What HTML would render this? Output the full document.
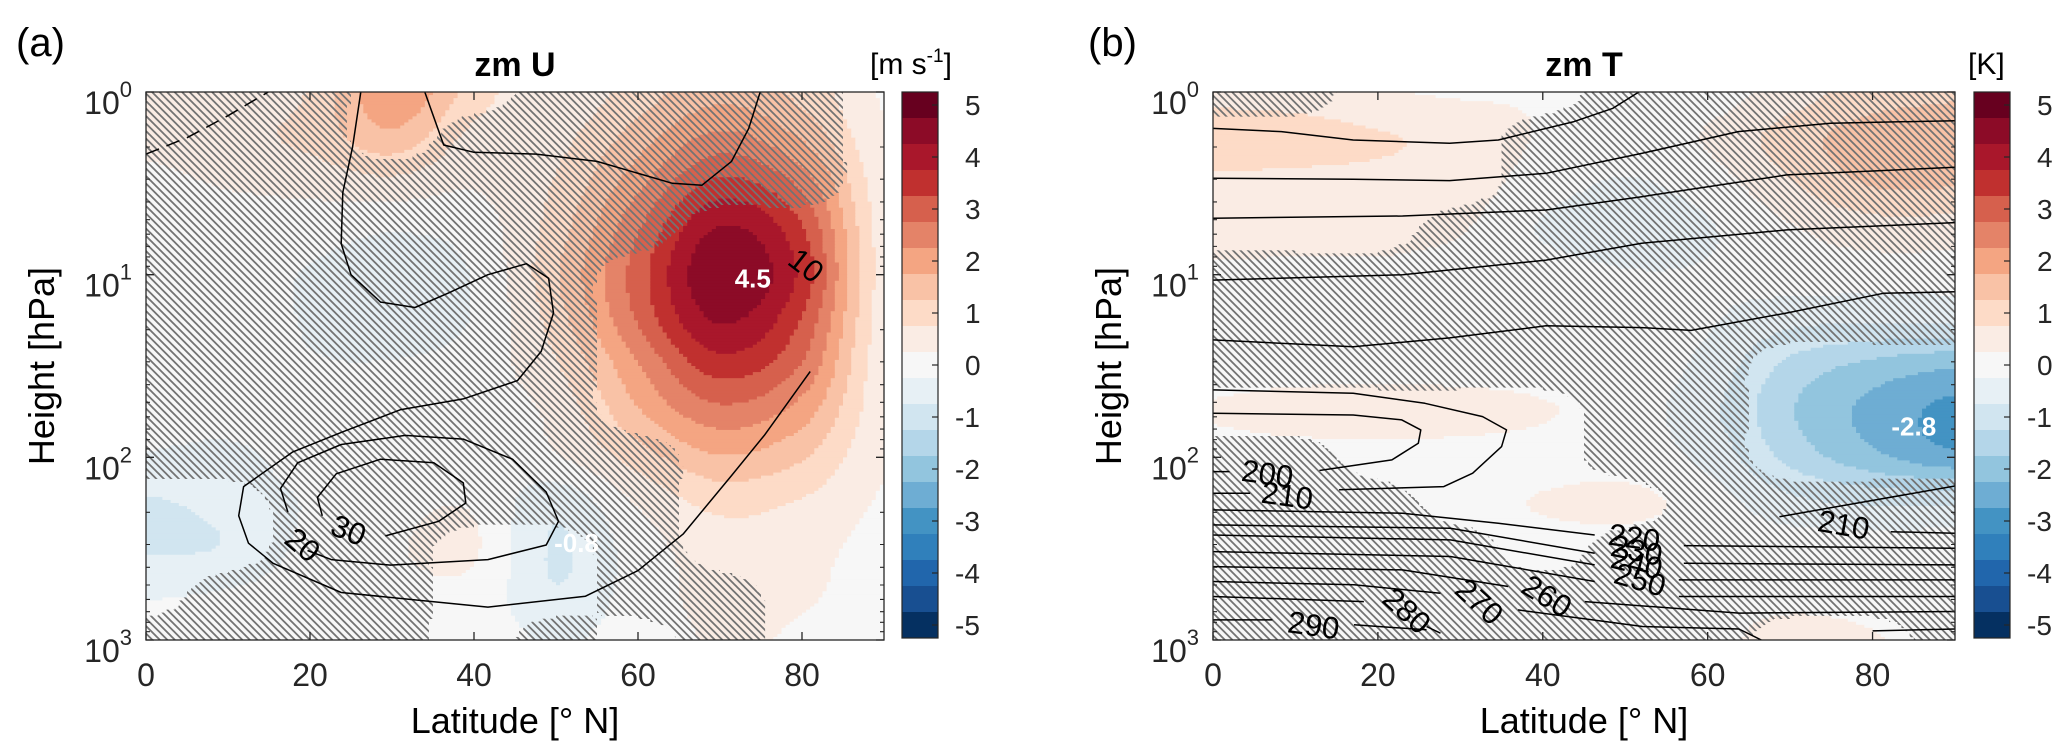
<!DOCTYPE html>
<html><head><meta charset="utf-8"><style>
html,body{margin:0;padding:0;background:#fff;}
svg{display:block;}
text{font-family:"Liberation Sans",Arial,sans-serif;}
</style></head><body>
<svg id="fig" xmlns="http://www.w3.org/2000/svg" width="2067" height="754" viewBox="0 0 2067 754">
<defs>
<pattern id="hatch" patternUnits="userSpaceOnUse" width="7.5" height="7.5">
<path d="M-1,-1 L8.5,8.5 M-1,6.5 L1,8.5 M6.5,-1 L8.5,1" stroke="#737373" stroke-width="1.8"/>
</pattern>
</defs>
<text x="16" y="56" font-size="40">(a)</text>
<text x="1088" y="56" font-size="40">(b)</text>
<text x="515" y="76" font-size="34" font-weight="bold" text-anchor="middle">zm U</text>
<text x="1584" y="76" font-size="34" font-weight="bold" text-anchor="middle">zm T</text>
<text x="870" y="74" font-size="30">[m s<tspan font-size="19" dy="-12">-1</tspan><tspan dy="12">]</tspan></text>
<text x="1968" y="74" font-size="30">[K]</text>
<text x="515" y="733" font-size="36" text-anchor="middle">Latitude [° N]</text>
<text x="1584" y="733" font-size="36" text-anchor="middle">Latitude [° N]</text>
<text x="0" y="0" font-size="36" text-anchor="middle" transform="translate(54,366) rotate(-90)">Height [hPa]</text>
<text x="0" y="0" font-size="36" text-anchor="middle" transform="translate(1121,366) rotate(-90)">Height [hPa]</text>
</svg>
<script>
// ---------- data ----------
const gridLats = [0,10,20,30,40,50,60,70,80,90];
const gridLogP = [0,0.25,0.5,0.75,1,1.25,1.5,1.75,2,2.25,2.5,2.75,3];
const latTicks = [0,20,40,60,80];
const pTickExps = [0,1,2,3];
const cbarTicks = [5,4,3,2,1,0,-1,-2,-3,-4,-5];
const cbarLevels = [5,4.5,4,3.5,3,2.5,2,1.5,1,0.5,0,-0.5,-1,-1.5,-2,-2.5,-3,-3.5,-4,-4.5,-5];
// zonal-mean U anomaly (rows: log10 p, cols: latitude)
const uAnom = [
[0.5,0.5,0.8,2.2,1.0,0.4,1.0,1.6,1.1,0.2],
[0.4,0.6,0.9,1.6,0.6,0.6,1.5,2.4,1.7,0.3],
[0.1,0.3,0.4,0.6,0.3,0.8,2.1,3.4,2.6,0.4],
[0,0,0,-0.2,0,1.0,2.7,4.3,3.3,0.5],
[0,0,-0.3,-0.6,-0.2,1.2,3.0,4.7,3.6,0.5],
[0,0,-0.3,-0.6,-0.2,1.0,2.8,4.3,3.2,0.5],
[0,0,-0.2,-0.2,0,0.7,2.2,3.5,2.7,0.4],
[0,0,0,0,0,0.4,1.7,2.6,2.0,0.4],
[-0.3,-0.4,0,0,0,0.2,1.0,1.7,1.3,0.3],
[-0.8,-0.6,-0.2,0.1,0.2,-0.6,0.3,0.9,0.7,0.2],
[-0.8,-0.7,-0.1,0.2,0.3,-0.8,0,0.5,0.4,0.1],
[-0.3,-0.2,0,0.1,0.1,-0.7,0,0.4,0.3,0.1],
[0,0,0,0,0,-0.3,0,0.3,0.2,0.1]];
const uHatch = [
[1,1,1,0,0,1,1,1,1,0],
[1,1,1,0,1,1,1,1,1,0],
[1,1,1,1,1,1,1,1,1,0],
[1,1,1,1,1,1,1,0,0,0],
[1,1,1,1,1,1,0,0,0,0],
[1,1,1,1,1,1,0,0,0,0],
[1,1,1,1,1,1,0,0,0,0],
[1,1,1,1,1,1,0,0,0,0],
[1,1,1,1,1,1,1,0,0,0],
[0,0,1,1,1,1,1,0,0,0],
[0,0,1,1,0,0,1,0,0,0],
[0,1,1,1,0,0,1,1,0,0],
[1,1,1,1,0,1,0,1,0,0]];
// zonal-mean T anomaly
const tAnom = [
[0.5,0.5,0.3,0.2,0.2,0,0,0.5,1.0,1.2],
[1.2,1.0,0.8,0.6,0.2,0,0.3,1.0,1.5,1.5],
[0.6,0.6,0.6,0.5,0,-0.3,0,0.7,1.3,1.3],
[0.6,0.5,0.5,0.3,-0.3,-0.6,-0.3,0.2,0.5,0.5],
[0.1,0.1,0.1,0,0,-0.2,-0.2,0,0,0],
[0,0,0,0,0,0,-0.2,-0.6,-0.7,-0.7],
[0,0,0,0,0,0,-0.4,-1.4,-1.9,-2.2],
[0.3,0.5,0.6,0.5,0.3,0,-0.6,-1.7,-2.4,-2.9],
[0,0,0,0,0,0,-0.4,-1.4,-2.1,-2.6],
[0,0,0,0,0.3,0.4,0,-0.6,-0.8,-0.8],
[0,0,0,0,0,0,0,0,0,0],
[0,0,0,0,0,0,0,0,0,0],
[0,0,0,0,0,0,0,0.6,0.3,0]];
const tHatch = [
[1,1,0,0,0,1,1,1,1,1],
[0,0,0,0,1,1,1,1,1,1],
[0,0,0,0,1,1,1,1,1,1],
[0,0,0,1,1,1,1,1,1,1],
[1,1,1,1,1,1,1,1,1,1],
[1,1,1,1,1,1,1,1,1,1],
[1,1,1,1,1,1,1,0,0,0],
[0,0,0,0,0,1,1,0,0,0],
[1,1,0,0,0,1,1,0,0,0],
[1,1,1,0,0,0,1,1,1,1],
[1,1,1,1,0,1,1,1,1,1],
[1,1,1,1,1,1,1,1,1,1],
[1,1,1,1,1,1,1,0,0,1]];
// climatological contour lines
const uLineLat = [
[26.2,25.2,24,23.8,25,28.6,32.8,36.9,41.7,46.4,49.1,49.7,48.2,45.3,38.7,31,24,17.9,11.9,11.3,12.5,15.5,23.8,41.7,53.6,60,65.5,71.4,75.4,81],
[34,36.3,40,47.6,55,64.2,67.8,71.4,73.5,74.9],
[0,5,10,14.9],
[19.7,22.6,29.8,41.7,48.8,50.3,48.8,44.7,38.7,31.6,23.8,18.5,16.4,17.3],
[29.2,35.7,39,38.7,35.1,28.6,23.2,20.9,21.5]];
const uLineLogP = [
[0,0.3,0.55,0.83,1.0,1.15,1.18,1.1,1.0,0.94,1.02,1.21,1.42,1.58,1.68,1.74,1.86,1.97,2.16,2.32,2.47,2.58,2.74,2.82,2.76,2.62,2.42,2.1,1.88,1.53],
[0,0.29,0.33,0.34,0.38,0.5,0.51,0.38,0.2,0],
[0.34,0.25,0.13,0],
[2.51,2.56,2.59,2.56,2.48,2.35,2.19,2.01,1.9,1.88,1.93,2.03,2.17,2.3],
[2.43,2.35,2.25,2.14,2.03,2.01,2.09,2.22,2.32]];
const uLineDash = [0,0,1,0,0];
const uLabelText = ["10","20","30"];
const uLabelLat = [80.5,19.1,24.7];
const uLabelLogP = [0.95,2.48,2.40];
const uLabelRot = [38,40,22];
const tLineLat = [
[52,48.5,43.8,34.6,28.7,17,8.3,0],
[0,17,28.7,40.4,52,63.7,74.9,90],
[0,23,40.4,52,69.6,90],
[0,23,40.4,52,69.6,90],
[0,17,28.7,40.4,52,58,69.6,81.3,90],
[0,4.5],
[15.3,28,31.5,35,35.6,32.7,25.7,17,0],
[0,2],
[12.9,21.7,24.9,25.2,22.9,17,0],
[0,23,34.6,46.3],[57.1,90],
[0,28.8,46.3],[57.1,90],
[0,28.8,46.3],[56.5,90],
[0,28.8,46.3],[56.5,90],
[0,23,35.8],[45.1,63.8,90],
[0,17.1,27.6],[37,52.1,63.8,66.5],
[0,18.3],[25.9,27.6],
[0,7.2],[17.1,25.9],
[90,68.7],[82.2,90],[80,90]];
const tLineLogP = [
[-0.01,0.089,0.162,0.263,0.281,0.263,0.217,0.199],
[0.472,0.478,0.485,0.445,0.336,0.217,0.171,0.157],
[0.691,0.679,0.646,0.573,0.454,0.412],
[1.03,1.0,0.92,0.828,0.755,0.715],
[1.357,1.395,1.346,1.28,1.29,1.305,1.21,1.102,1.093],
[2.197,2.197],
[2.178,2.16,2.087,1.941,1.85,1.777,1.704,1.649,1.631],
[2.078,2.078],
[2.072,2.014,1.923,1.85,1.795,1.768,1.759],
[2.288,2.306,2.361,2.425],[2.483,2.498],
[2.37,2.388,2.525],[2.58,2.589],
[2.425,2.452,2.589],[2.671,2.671],
[2.516,2.543,2.68],[2.762,2.762],
[2.598,2.616,2.707],[2.79,2.853,2.844],
[2.68,2.698,2.744],[2.835,2.926,2.94,3.0],
[2.762,2.79],[2.926,2.963],
[2.89,2.89],[2.917,2.944],
[2.157,2.325],[2.407,2.416],[2.95,2.94]];
const tLabelText = ["200","210","220","230","240","250","260","270","280","290","210"];
const tLabelLat = [6.6,9.0,51.1,51.4,51.4,51.8,40.5,32.3,23.5,12.2,76.5];
const tLabelLogP = [2.09,2.21,2.44,2.51,2.58,2.67,2.76,2.79,2.84,2.92,2.37];
const tLabelRot = [8,8,8,12,14,16,32,42,42,8,10];
const uExtremaText = ["4.5","-0.8"];
const uExtremaLat = [74,52.5];
const uExtremaLogP = [1.02,2.47];
const tExtremaText = ["-2.8"];
const tExtremaLat = [85];
const tExtremaLogP = [1.83];

const palette = ["#67001f","#8c0b27","#a9172b","#c0302f","#d6604d","#e48368","#f4a582","#f9c2a6","#fddbc7","#faece4","#f7f7f7","#e7f0f5","#d1e5f0","#b4d6e9","#92c5de","#6eadd3","#4393c3","#3080bb","#2166ac","#184f91","#053061"];

// ---------- drawing ----------
const NS = "http://www.w3.org/2000/svg";
const svg = document.getElementById("fig");
function el(tag, parent){ const e=document.createElementNS(NS,tag); parent.appendChild(e); return e; }
function cr1(p0,p1,p2,p3,t){
  return 0.5*((2*p1)+(-p0+p2)*t+(2*p0-5*p1+4*p2-p3)*t*t+(-p0+3*p1-3*p2+p3)*t*t*t);
}
function interp(g, lat, lp){
  const fi=Math.min(Math.max(lat/10,0),8.9999), fj=Math.min(Math.max(lp/0.25,0),11.9999);
  const i=Math.floor(fi), j=Math.floor(fj), a=fi-i, b=fj-j;
  const ci=k=>Math.max(0,Math.min(9,k)), cj=k=>Math.max(0,Math.min(12,k));
  const rows=[];
  for(let dj=-1;dj<=2;dj++){
    const R=g[cj(j+dj)];
    rows.push(cr1(R[ci(i-1)],R[ci(i)],R[ci(i+1)],R[ci(i+2)],a));
  }
  return cr1(rows[0],rows[1],rows[2],rows[3],b);
}
function levelIndex(v){ let k=Math.round(v/0.5); k=Math.max(-10,Math.min(10,k)); return 10-k; }

function drawPanel(o){
  const xs = lat => o.L+(o.R-o.L)*lat/90;
  const ys = lp => o.T+(o.B-o.T)*lp/3;
  const g = el("g", svg);
  
  
  const clip = el("clipPath", g); clip.setAttribute("id", o.name+"-clip");
  const cr = el("rect", clip); cr.setAttribute("x",o.L); cr.setAttribute("y",o.T); cr.setAttribute("width",o.R-o.L); cr.setAttribute("height",o.B-o.T);
  const fg = el("g", g); fg.setAttribute("clip-path","url(#"+o.name+"-clip)");
  
  
  const NR=180, NC=180, dlp=3/NR, dl=90/NC;
  for(let r=0;r<NR;r++){
    const lp0=r*dlp, lpm=lp0+dlp/2;
    let start=0, cur=levelIndex(interp(o.field,dl/2,lpm));
    for(let c=0;c<=NC;c++){
      const k = c<NC ? levelIndex(interp(o.field,(c+0.5)*dl,lpm)) : -99;
      if(k!==cur){
        const rc=el("rect",fg);
        
        
        rc.setAttribute("x",xs(start*dl)); rc.setAttribute("y",ys(lp0));
        rc.setAttribute("width",xs(c*dl)-xs(start*dl)+0.6); rc.setAttribute("height",ys(lp0+dlp)-ys(lp0)+0.6);
        rc.setAttribute("fill",palette[cur]);
        start=c; cur=k;
      }
    }
  }
  const hg = el("g", g); hg.setAttribute("clip-path","url(#"+o.name+"-clip)");
  
  
  for(let r=0;r<NR;r++){
    const lp0=r*dlp, lpm=lp0+dlp/2;
    let s=-1;
    for(let c=0;c<=NC;c++){
      const on = c<NC && interp(o.mask,(c+0.5)*dl,lpm)>=0.5;
      if(on && s<0) s=c;
      if(!on && s>=0){
        const rc=el("rect",hg);
        
        
        rc.setAttribute("x",xs(s*dl)); rc.setAttribute("y",ys(lp0));
        rc.setAttribute("width",xs(c*dl)-xs(s*dl)); rc.setAttribute("height",ys(lp0+dlp)-ys(lp0)+0.3);
        rc.setAttribute("fill","url(#hatch)");
        s=-1;
      }
    }
  }
  const lg = el("g", g); lg.setAttribute("clip-path","url(#"+o.name+"-clip)");
  
  
  for(let i=0;i<o.lineLat.length;i++){
    const pl=el("polyline",lg);
    
    
    pl.setAttribute("points", o.lineLat[i].map((la,j)=>xs(la).toFixed(1)+","+ys(o.lineLogP[i][j]).toFixed(1)).join(" "));
    pl.setAttribute("fill","none"); pl.setAttribute("stroke","#000"); pl.setAttribute("stroke-width","1.5");
    pl.setAttribute("stroke-linejoin","round");
    if(o.lineDash && o.lineDash[i]) pl.setAttribute("stroke-dasharray","14,8");
  }
  for(let i=0;i<o.labText.length;i++){
    const t=el("text",lg);
    
    
    t.setAttribute("font-size","31");
    t.setAttribute("text-anchor","middle"); t.setAttribute("dominant-baseline","central");
    t.setAttribute("transform","translate("+xs(o.labLat[i])+","+ys(o.labLogP[i])+") rotate("+o.labRot[i]+")");
    t.textContent=o.labText[i];
  }
  for(let i=0;i<o.exText.length;i++){
    const t=el("text",lg);
    
    
    t.setAttribute("font-size","26"); t.setAttribute("font-weight","bold"); t.setAttribute("fill","#fff");
    t.setAttribute("text-anchor","middle"); t.setAttribute("dominant-baseline","central");
    t.setAttribute("x",xs(o.exLat[i])); t.setAttribute("y",ys(o.exLogP[i]));
    t.textContent=o.exText[i];
  }
  const fr=el("rect",g);
  
  
  fr.setAttribute("x",o.L); fr.setAttribute("y",o.T); fr.setAttribute("width",o.R-o.L); fr.setAttribute("height",o.B-o.T);
  fr.setAttribute("fill","none"); fr.setAttribute("stroke","#262626"); fr.setAttribute("stroke-width","1.3");
  latTicks.forEach(v=>{
    const x=xs(v);
    const tk=el("path",g);
    
    
    tk.setAttribute("d","M"+x+","+o.B+" v-8 M"+x+","+o.T+" v8");
    tk.setAttribute("stroke","#262626"); tk.setAttribute("stroke-width","1.3");
    const t=el("text",g);
    
    
    t.setAttribute("x",x); t.setAttribute("y",o.B+46); t.setAttribute("font-size","32"); t.setAttribute("text-anchor","middle");
    t.setAttribute("fill","#262626");
    t.textContent=String(v);
  });
  pTickExps.forEach(e=>{
    const y=ys(e);
    const tk=el("path",g);
    
    
    tk.setAttribute("d","M"+o.L+","+y+" h8 M"+o.R+","+y+" h-8");
    tk.setAttribute("stroke","#262626"); tk.setAttribute("stroke-width","1.3");
    const t=el("text",g);
    
    
    t.setAttribute("x",o.L-14); t.setAttribute("y",y+22); t.setAttribute("font-size","32"); t.setAttribute("text-anchor","end");
    t.setAttribute("fill","#262626");
    t.textContent="10";
    const s=el("tspan",t); s.setAttribute("font-size","22"); s.setAttribute("dy","-17"); s.textContent=String(e);
    if(e<3){
      for(let m=2;m<=9;m++){
        const ym=ys(e+Math.log10(m));
        const mt=el("path",g);
        
        
        mt.setAttribute("d","M"+o.L+","+ym+" h4 M"+o.R+","+ym+" h-4");
        mt.setAttribute("stroke","#262626"); mt.setAttribute("stroke-width","1.1");
      }
    }
  });
  const cb=el("g",svg);
  
  
  const cy = v => 92+(5.25-v)*52;
  cbarLevels.forEach((lv,i)=>{
    const r=el("rect",cb);
    
    
    r.setAttribute("x",o.cbX); r.setAttribute("y",cy(lv+0.25)); r.setAttribute("width",36); r.setAttribute("height",26.5);
    r.setAttribute("fill",palette[levelIndex(lv)]);
  });
  const cbf=el("rect",cb);
  
  
  cbf.setAttribute("x",o.cbX); cbf.setAttribute("y",cy(5.25)); cbf.setAttribute("width",36); cbf.setAttribute("height",546);
  cbf.setAttribute("fill","none"); cbf.setAttribute("stroke","#262626"); cbf.setAttribute("stroke-width","1.2");
  cbarTicks.forEach(v=>{
    const y=cy(v);
    const tk=el("path",cb);
    
    
    tk.setAttribute("d","M"+(o.cbX+36)+","+y+" h-6");
    tk.setAttribute("stroke","#262626"); tk.setAttribute("stroke-width","1.2");
    const t=el("text",cb);
    
    
    t.setAttribute("x",o.cbX+53+(v>=0?10:0)); t.setAttribute("y",y+10); t.setAttribute("font-size","28");
    t.setAttribute("fill","#262626");
    t.textContent=String(v);
  });
}
drawPanel({name:"panel-a",L:146,R:884,T:92,B:640,cbX:902,field:uAnom,mask:uHatch,
  lineLat:uLineLat,lineLogP:uLineLogP,lineDash:uLineDash,labText:uLabelText,labLat:uLabelLat,labLogP:uLabelLogP,labRot:uLabelRot,
  exText:uExtremaText,exLat:uExtremaLat,exLogP:uExtremaLogP});
drawPanel({name:"panel-b",L:1213,R:1955,T:92,B:640,cbX:1974,field:tAnom,mask:tHatch,
  lineLat:tLineLat,lineLogP:tLineLogP,lineDash:null,labText:tLabelText,labLat:tLabelLat,labLogP:tLabelLogP,labRot:tLabelRot,
  exText:tExtremaText,exLat:tExtremaLat,exLogP:tExtremaLogP});
</script>
</body></html>
